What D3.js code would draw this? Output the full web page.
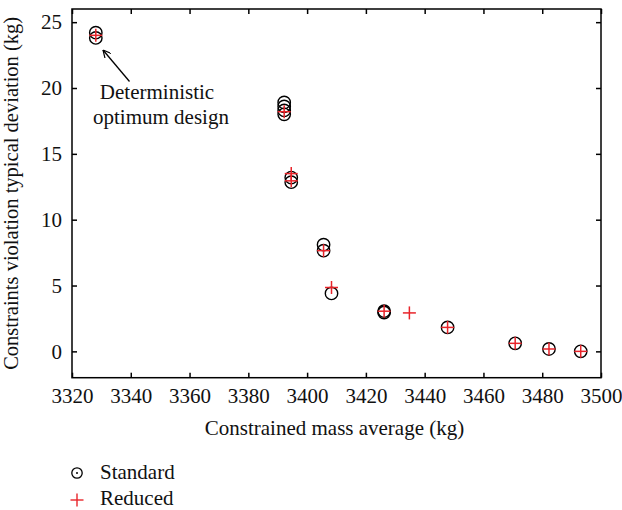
<!DOCTYPE html>
<html><head><meta charset="utf-8">
<script src="https://cdn.jsdelivr.net/npm/d3@7/dist/d3.min.js"></script>
<style>body{margin:0;background:#fff}svg{display:block}text{font-family:"Liberation Serif","DejaVu Serif",serif;fill:#111}</style>
</head><body>
<svg id="c" width="622" height="510"></svg>
<script>
// Standard (circles)
const stdX = [3328.1, 3328.1, 3392.2, 3392.2, 3392.2, 3392.2, 3394.6, 3394.6, 3405.6, 3405.6, 3408.3, 3426.2, 3426.2, 3447.8, 3470.8, 3482.3, 3493.1];
const stdY = [24.2, 23.8, 18.9, 18.6, 18.3, 18.0, 13.2, 12.85, 8.1, 7.65, 4.4, 3.05, 2.95, 1.82, 0.61, 0.18, 0.0];
// Reduced (crosses)
const redX = [3328.1, 3392.2, 3394.6, 3394.6, 3405.6, 3408.3, 3426.2, 3434.8, 3447.8, 3470.8, 3482.3, 3493.1];
const redY = [24.0, 18.2, 13.5, 12.95, 7.65, 4.85, 3.05, 2.92, 1.82, 0.61, 0.18, 0.0];
const xTicks = [3320, 3340, 3360, 3380, 3400, 3420, 3440, 3460, 3480, 3500];
const yTicks = [0, 5, 10, 15, 20, 25];
const xLabel = "Constrained mass average (kg)";
const yLabel = "Constraints violation typical deviation (kg)";
const annot = ["Deterministic", "optimum design"];
const legendNames = ["Standard", "Reduced"];

const svg = d3.select("#c");
const L = 72, R = 601, T = 9, B = 377.7;
const x = d3.scaleLinear().domain([3320, 3500]).range([L, R]);
const y = d3.scaleLinear().domain([-2, 26]).range([B, T]);
const FS = 21;
const red = "#e8242a";

// frame
svg.append("rect").attr("x", L).attr("y", T).attr("width", R - L).attr("height", B - T)
  .attr("fill", "none").attr("stroke", "#000").attr("stroke-width", 1.5);

const tl = 5;
const gx = svg.append("g").attr("transform", `translate(0,${B})`)
  .call(d3.axisBottom(x).tickValues(xTicks).tickFormat(d3.format("d")).tickSizeInner(-tl).tickSizeOuter(0).tickPadding(10));
const gxt = svg.append("g").attr("transform", `translate(0,${T})`)
  .call(d3.axisTop(x).tickValues(xTicks).tickFormat("").tickSizeInner(-tl).tickSizeOuter(0));
const gy = svg.append("g").attr("transform", `translate(${L},0)`)
  .call(d3.axisLeft(y).tickValues(yTicks).tickSizeInner(-tl).tickSizeOuter(0).tickPadding(10));
const gyr = svg.append("g").attr("transform", `translate(${R},0)`)
  .call(d3.axisRight(y).tickValues(yTicks).tickFormat("").tickSizeInner(-tl).tickSizeOuter(0));
[gx, gxt, gy, gyr].forEach(g => {
  g.select(".domain").remove();
  g.selectAll("line").attr("stroke", "#000").attr("stroke-width", 1.5);
  g.selectAll("text").attr("font-size", FS).attr("font-family", "Liberation Serif").attr("fill", "#111");
});

// axis labels
svg.append("text").attr("x", (L + R) / 2 - 2).attr("y", 435).attr("text-anchor", "middle").attr("font-size", FS).text(xLabel);
svg.append("text").attr("transform", `translate(18,${(T + B) / 2}) rotate(-90)`).attr("text-anchor", "middle").attr("font-size", 20.5).text(yLabel);

// circles
const r = 6.2;
svg.append("g").selectAll("circle").data(stdX.map((d, i) => [d, stdY[i]])).join("circle")
  .attr("cx", d => x(d[0])).attr("cy", d => y(d[1])).attr("r", r)
  .attr("fill", "none").attr("stroke", "#000").attr("stroke-width", 1.4);

// crosses
const cs = 6.5;
const cg = svg.append("g").attr("stroke", red).attr("stroke-width", 1.5);
redX.forEach((d, i) => {
  const cx = x(d), cy = y(redY[i]);
  cg.append("line").attr("x1", cx - cs).attr("x2", cx + cs).attr("y1", cy).attr("y2", cy);
  cg.append("line").attr("x1", cx).attr("x2", cx).attr("y1", cy - cs).attr("y2", cy + cs);
});

// annotation
svg.append("defs").append("marker").attr("id", "ah").attr("viewBox", "0 0 10 10").attr("refX", 10).attr("refY", 5)
  .attr("markerWidth", 8).attr("markerHeight", 8).attr("markerUnits", "userSpaceOnUse").attr("orient", "auto")
  .append("path").attr("d", "M0,0 L10,5 L0,10").attr("fill", "none").attr("stroke", "#000").attr("stroke-width", 1.5);
svg.append("line").attr("x1", 129.5).attr("y1", 81.5).attr("x2", 103).attr("y2", 50)
  .attr("stroke", "#000").attr("stroke-width", 1.3).attr("marker-end", "url(#ah)");
svg.append("text").attr("x", 157).attr("y", 98.5).attr("text-anchor", "middle").attr("font-size", FS).text(annot[0]);
svg.append("text").attr("x", 161).attr("y", 124).attr("text-anchor", "middle").attr("font-size", FS).text(annot[1]);

// legend
const lx = 77, ly1 = 473, ly2 = 500;
svg.append("circle").attr("cx", lx).attr("cy", ly1).attr("r", 5.2).attr("fill", "none").attr("stroke", "#000").attr("stroke-width", 1.3);
svg.append("circle").attr("cx", lx).attr("cy", ly1).attr("r", 1).attr("fill", "#000");
svg.append("line").attr("x1", lx - 6.5).attr("x2", lx + 6.5).attr("y1", ly2).attr("y2", ly2).attr("stroke", red).attr("stroke-width", 1.4);
svg.append("line").attr("x1", lx).attr("x2", lx).attr("y1", ly2 - 6.5).attr("y2", ly2 + 6.5).attr("stroke", red).attr("stroke-width", 1.4);
svg.append("text").attr("x", 100).attr("y", 479).attr("font-size", FS).text(legendNames[0]);
svg.append("text").attr("x", 100).attr("y", 505).attr("font-size", FS).text(legendNames[1]);
</script>
</body></html>
